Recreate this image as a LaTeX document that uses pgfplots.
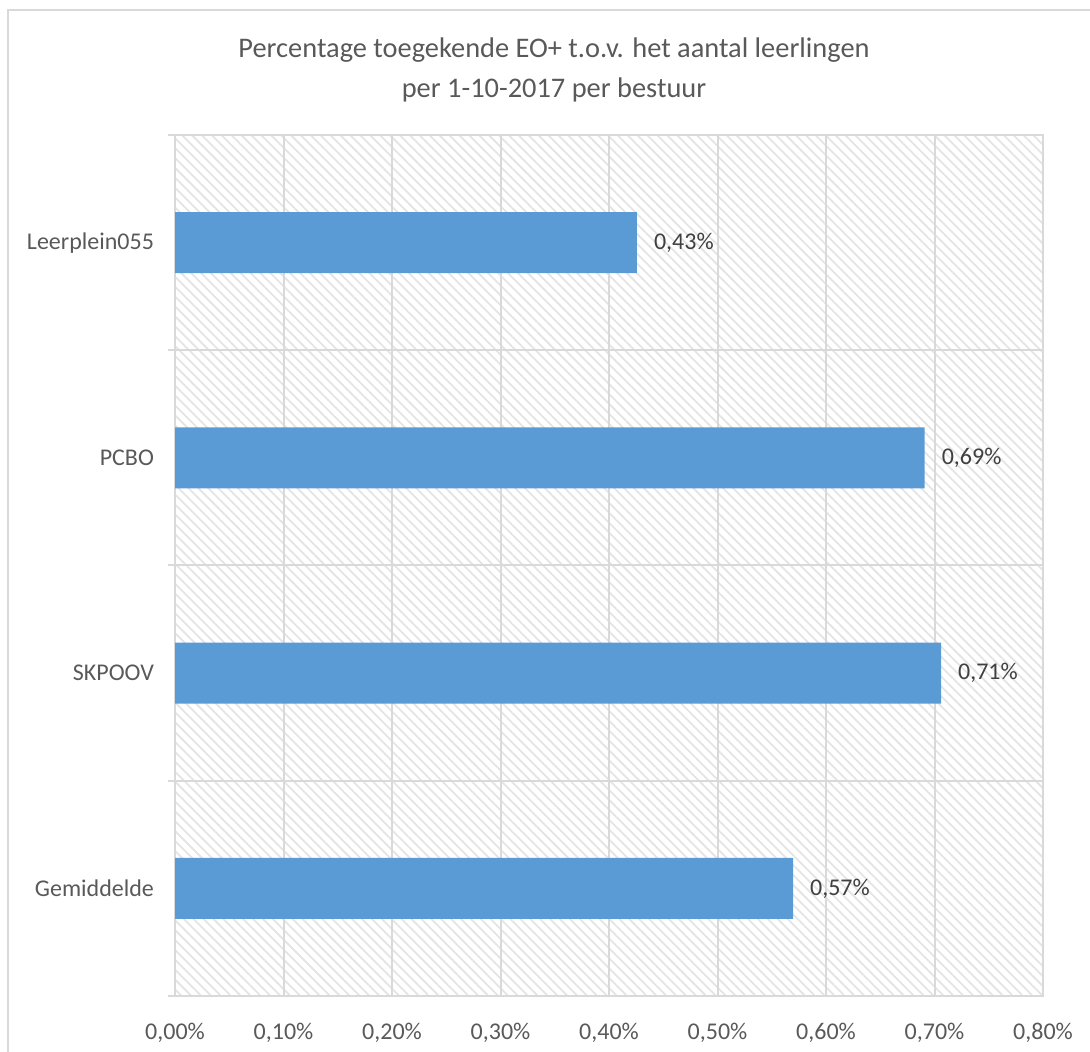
\documentclass[border=0pt]{standalone}
\usepackage{fontspec}
\setmainfont{Carlito}
\usepackage{pgfplots}
\pgfplotsset{compat=1.18}
\usetikzlibrary{patterns.meta}
\definecolor{barblue}{HTML}{5B9BD5}
\definecolor{gridgray}{HTML}{D9D9D9}
\definecolor{txtgray}{HTML}{595959}
\definecolor{lblgray}{HTML}{404040}
\definecolor{hatch}{HTML}{E4E4E4}

\begin{document}
\begin{tikzpicture}[x=1pt,y=1pt]
\useasboundingbox (0,0) rectangle (545,526);
% chart area border (only top and left are inside the picture)
\begin{scope}
\clip (0,0) rectangle (545,526);
\draw[gridgray, line width=1pt] (4,-10) -- (4,521) -- (560,521);
\end{scope}
\node[anchor=base, text=txtgray, font=\fontsize{14.2}{17}\selectfont] at (277,497)
  {Percentage toegekende EO+ t.o.v. het aantal leerlingen};
\node[anchor=base, text=txtgray, font=\fontsize{14.2}{17}\selectfont] at (277,477)
  {per 1-10-2017 per bestuur};
\begin{axis}[
    at={(87.5pt,28pt)}, anchor=south west,
    scale only axis,
    width=434pt, height=430.5pt,
    xbar,
    xmin=0, xmax=0.8,
    ymin=-0.5, ymax=3.5,
    xtick={0,0.1,0.2,0.3,0.4,0.5,0.6,0.7,0.8},
    xticklabel={\pgfmathprintnumber[fixed,fixed zerofill,precision=2,use comma]{\tick}\%},
    ytick={0,1,2,3},
    yticklabels={Gemiddelde,SKPOOV,PCBO,Leerplein055},
    minor ytick={-0.5,0.5,1.5,2.5,3.5},
    xmajorgrids, yminorgrids,
    ytick pos=left, xtick pos=bottom,
    major tick length=0pt,
    minor tick length=3.5pt,
    tick align=outside,
    every tick/.style={gridgray, line width=1pt},
    grid style={gridgray, line width=1pt},
    axis line style={gridgray, line width=1pt},
    axis background/.style={pattern={Lines[angle=-45,distance=3.5pt,line width=0.9pt]}, pattern color=hatch},
    /pgf/number format/assume math mode=true,
    tick label style={font=\fontsize{12}{14}\selectfont, text=txtgray},
    xticklabel style={yshift=-10pt},
    yticklabel style={xshift=-7pt},
    bar width=0.284,
    point meta=x,
    nodes near coords={\pgfmathprintnumber[fixed,fixed zerofill,precision=2,use comma]{\pgfplotspointmeta}\%},
    nodes near coords style={font=\fontsize{12}{14}\selectfont, text=lblgray, anchor=west, xshift=5pt},
]
\addplot[fill=barblue, draw=none] coordinates {
    (0.4258,3)
    (0.6910,2)
    (0.7060,1)
    (0.5696,0)
};
\end{axis}
\end{tikzpicture}
\end{document}
